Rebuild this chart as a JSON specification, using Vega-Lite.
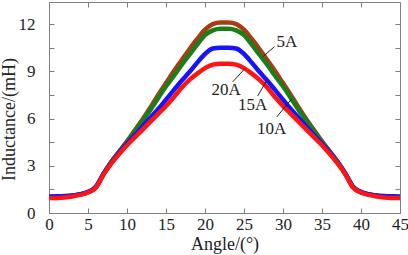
{
  "$schema": "https://vega.github.io/schema/vega-lite/v6.json",
  "width": 351,
  "height": 211,
  "autosize": "none",
  "padding": {"left": 49, "top": 2, "right": 8, "bottom": 42},
  "background": "white",
  "config": {
    "font": "Liberation Serif",
    "view": {"stroke": null},
    "axis": {"domainColor": "#808080", "tickColor": "#808080", "grid": false, "labelFont": "Liberation Serif", "titleFont": "Liberation Serif", "labelColor": "#222222", "titleColor": "#222222", "titleFontWeight": "normal", "labelFontSize": 17, "titleFontSize": 18}
  },
  "datasets": {
    "curves": [
      {"s":"5A","x":0,"y":1.0},{"s":"5A","x":1,"y":1.02},{"s":"5A","x":2,"y":1.05},{"s":"5A","x":3,"y":1.1},{"s":"5A","x":4,"y":1.18},{"s":"5A","x":5,"y":1.32},{"s":"5A","x":6,"y":1.65},{"s":"5A","x":7,"y":2.5},{"s":"5A","x":8,"y":3.25},{"s":"5A","x":9,"y":3.9},{"s":"5A","x":10,"y":4.55},{"s":"5A","x":11,"y":5.25},{"s":"5A","x":12,"y":5.95},{"s":"5A","x":13,"y":6.7},{"s":"5A","x":14,"y":7.5},{"s":"5A","x":15,"y":8.25},{"s":"5A","x":16,"y":9.0},{"s":"5A","x":17,"y":9.7},{"s":"5A","x":18,"y":10.4},{"s":"5A","x":19,"y":11.05},{"s":"5A","x":20,"y":11.65},{"s":"5A","x":21,"y":12.0},{"s":"5A","x":22,"y":12.1},{"s":"5A","x":23,"y":12.1},{"s":"5A","x":24,"y":12.0},{"s":"5A","x":25,"y":11.65},{"s":"5A","x":26,"y":11.05},{"s":"5A","x":27,"y":10.4},{"s":"5A","x":28,"y":9.7},{"s":"5A","x":29,"y":9.0},{"s":"5A","x":30,"y":8.25},{"s":"5A","x":31,"y":7.5},{"s":"5A","x":32,"y":6.7},{"s":"5A","x":33,"y":5.95},{"s":"5A","x":34,"y":5.25},{"s":"5A","x":35,"y":4.55},{"s":"5A","x":36,"y":3.9},{"s":"5A","x":37,"y":3.25},{"s":"5A","x":38,"y":2.5},{"s":"5A","x":39,"y":1.65},{"s":"5A","x":40,"y":1.32},{"s":"5A","x":41,"y":1.18},{"s":"5A","x":42,"y":1.1},{"s":"5A","x":43,"y":1.05},{"s":"5A","x":44,"y":1.02},{"s":"5A","x":45,"y":1.0},
      {"s":"10A","x":0,"y":1.0},{"s":"10A","x":1,"y":1.02},{"s":"10A","x":2,"y":1.05},{"s":"10A","x":3,"y":1.1},{"s":"10A","x":4,"y":1.18},{"s":"10A","x":5,"y":1.32},{"s":"10A","x":6,"y":1.65},{"s":"10A","x":7,"y":2.5},{"s":"10A","x":8,"y":3.25},{"s":"10A","x":9,"y":3.9},{"s":"10A","x":10,"y":4.5},{"s":"10A","x":11,"y":5.2},{"s":"10A","x":12,"y":5.85},{"s":"10A","x":13,"y":6.55},{"s":"10A","x":14,"y":7.3},{"s":"10A","x":15,"y":8.05},{"s":"10A","x":16,"y":8.7},{"s":"10A","x":17,"y":9.4},{"s":"10A","x":18,"y":10.05},{"s":"10A","x":19,"y":10.7},{"s":"10A","x":20,"y":11.3},{"s":"10A","x":21,"y":11.6},{"s":"10A","x":22,"y":11.7},{"s":"10A","x":23,"y":11.7},{"s":"10A","x":24,"y":11.6},{"s":"10A","x":25,"y":11.3},{"s":"10A","x":26,"y":10.7},{"s":"10A","x":27,"y":10.05},{"s":"10A","x":28,"y":9.4},{"s":"10A","x":29,"y":8.7},{"s":"10A","x":30,"y":8.05},{"s":"10A","x":31,"y":7.3},{"s":"10A","x":32,"y":6.55},{"s":"10A","x":33,"y":5.85},{"s":"10A","x":34,"y":5.2},{"s":"10A","x":35,"y":4.5},{"s":"10A","x":36,"y":3.9},{"s":"10A","x":37,"y":3.25},{"s":"10A","x":38,"y":2.5},{"s":"10A","x":39,"y":1.65},{"s":"10A","x":40,"y":1.32},{"s":"10A","x":41,"y":1.18},{"s":"10A","x":42,"y":1.1},{"s":"10A","x":43,"y":1.05},{"s":"10A","x":44,"y":1.02},{"s":"10A","x":45,"y":1.0},
      {"s":"15A","x":0,"y":1.05},{"s":"15A","x":1,"y":1.06},{"s":"15A","x":2,"y":1.08},{"s":"15A","x":3,"y":1.12},{"s":"15A","x":4,"y":1.2},{"s":"15A","x":5,"y":1.34},{"s":"15A","x":6,"y":1.65},{"s":"15A","x":7,"y":2.5},{"s":"15A","x":8,"y":3.2},{"s":"15A","x":9,"y":3.85},{"s":"15A","x":10,"y":4.4},{"s":"15A","x":11,"y":4.95},{"s":"15A","x":12,"y":5.5},{"s":"15A","x":13,"y":6.05},{"s":"15A","x":14,"y":6.6},{"s":"15A","x":15,"y":7.2},{"s":"15A","x":16,"y":7.8},{"s":"15A","x":17,"y":8.4},{"s":"15A","x":18,"y":8.95},{"s":"15A","x":19,"y":9.55},{"s":"15A","x":20,"y":10.1},{"s":"15A","x":21,"y":10.45},{"s":"15A","x":22,"y":10.5},{"s":"15A","x":23,"y":10.5},{"s":"15A","x":24,"y":10.45},{"s":"15A","x":25,"y":10.1},{"s":"15A","x":26,"y":9.55},{"s":"15A","x":27,"y":8.95},{"s":"15A","x":28,"y":8.4},{"s":"15A","x":29,"y":7.8},{"s":"15A","x":30,"y":7.2},{"s":"15A","x":31,"y":6.6},{"s":"15A","x":32,"y":6.05},{"s":"15A","x":33,"y":5.5},{"s":"15A","x":34,"y":4.95},{"s":"15A","x":35,"y":4.4},{"s":"15A","x":36,"y":3.85},{"s":"15A","x":37,"y":3.2},{"s":"15A","x":38,"y":2.5},{"s":"15A","x":39,"y":1.65},{"s":"15A","x":40,"y":1.34},{"s":"15A","x":41,"y":1.2},{"s":"15A","x":42,"y":1.12},{"s":"15A","x":43,"y":1.08},{"s":"15A","x":44,"y":1.06},{"s":"15A","x":45,"y":1.05},
      {"s":"20A","x":0,"y":0.95},{"s":"20A","x":1,"y":0.96},{"s":"20A","x":2,"y":0.99},{"s":"20A","x":3,"y":1.05},{"s":"20A","x":4,"y":1.15},{"s":"20A","x":5,"y":1.3},{"s":"20A","x":6,"y":1.6},{"s":"20A","x":7,"y":2.45},{"s":"20A","x":8,"y":3.15},{"s":"20A","x":9,"y":3.75},{"s":"20A","x":10,"y":4.3},{"s":"20A","x":11,"y":4.8},{"s":"20A","x":12,"y":5.3},{"s":"20A","x":13,"y":5.8},{"s":"20A","x":14,"y":6.3},{"s":"20A","x":15,"y":6.8},{"s":"20A","x":16,"y":7.35},{"s":"20A","x":17,"y":7.95},{"s":"20A","x":18,"y":8.45},{"s":"20A","x":19,"y":8.85},{"s":"20A","x":20,"y":9.2},{"s":"20A","x":21,"y":9.42},{"s":"20A","x":22,"y":9.48},{"s":"20A","x":23,"y":9.48},{"s":"20A","x":24,"y":9.42},{"s":"20A","x":25,"y":9.2},{"s":"20A","x":26,"y":8.85},{"s":"20A","x":27,"y":8.45},{"s":"20A","x":28,"y":7.95},{"s":"20A","x":29,"y":7.35},{"s":"20A","x":30,"y":6.8},{"s":"20A","x":31,"y":6.3},{"s":"20A","x":32,"y":5.8},{"s":"20A","x":33,"y":5.3},{"s":"20A","x":34,"y":4.8},{"s":"20A","x":35,"y":4.3},{"s":"20A","x":36,"y":3.75},{"s":"20A","x":37,"y":3.15},{"s":"20A","x":38,"y":2.45},{"s":"20A","x":39,"y":1.6},{"s":"20A","x":40,"y":1.3},{"s":"20A","x":41,"y":1.15},{"s":"20A","x":42,"y":1.05},{"s":"20A","x":43,"y":0.99},{"s":"20A","x":44,"y":0.96},{"s":"20A","x":45,"y":0.95}
    ],
    "notes": [
      {"label":"5A","tx":30.5,"ty":10.88,"x1":27.4,"y1":9.92,"x2":28.9,"y2":10.56},
      {"label":"20A","tx":22.7,"ty":7.79,"x1":23.55,"y1":8.33,"x2":25.1,"y2":9.16},
      {"label":"15A","tx":26.1,"ty":6.83,"x1":26.76,"y1":7.43,"x2":28.0,"y2":8.5},
      {"label":"10A","tx":28.55,"ty":5.36,"x1":29.2,"y1":6.1,"x2":31.1,"y2":7.24}
    ]
  },
  "layer": [
    {
      "data": {"name": "curves"},
      "mark": {"type": "line", "strokeWidth": 4.5, "clip": true, "interpolate": "monotone"},
      "encoding": {
        "x": {"field": "x", "type": "quantitative", "scale": {"domain": [0, 45], "nice": false, "zero": false},
              "axis": {"orient": "bottom", "values": [0,5,10,15,20,25,30,35,40,45], "tickSize": -5, "labelPadding": 8, "labelFlush": false, "title": "Angle/(°)", "titlePadding": 3}},
        "y": {"field": "y", "type": "quantitative", "scale": {"domain": [0, 13.4], "nice": false},
              "axis": {"orient": "left", "values": [0,1.5,3,4.5,6,7.5,9,10.5,12], "labelExpr": "datum.value % 3 == 0 ? datum.label : ''", "tickSize": -5, "labelPadding": 19, "title": "Inductance/(mH)", "titleX": -31, "titleY": 117}},
        "color": {"field": "s", "type": "nominal", "scale": {"domain": ["5A","10A","15A","20A"], "range": ["#A83C14","#1A7F1A","#1414FF","#FF1414"]}, "legend": null}
      }
    },
    {
      "data": {"name": "notes"},
      "mark": {"type": "rule", "color": "#222222", "strokeWidth": 1},
      "encoding": {
        "x": {"field": "x1", "type": "quantitative", "axis": {"orient": "top", "values": [0,5,10,15,20,25,30,35,40,45], "labels": false, "title": null, "tickSize": -5}},
        "y": {"field": "y1", "type": "quantitative", "axis": {"orient": "right", "values": [0,1.5,3,4.5,6,7.5,9,10.5,12], "labels": false, "title": null, "tickSize": -5}},
        "x2": {"field": "x2"},
        "y2": {"field": "y2"}
      }
    },
    {
      "data": {"name": "notes"},
      "mark": {"type": "text", "font": "Liberation Serif", "fontSize": 17, "color": "#222222", "align": "center", "baseline": "middle"},
      "encoding": {
        "x": {"field": "tx", "type": "quantitative", "axis": null},
        "y": {"field": "ty", "type": "quantitative", "axis": null},
        "text": {"field": "label"}
      }
    }
  ],
  "resolve": {"axis": {"x": "independent", "y": "independent"}}
}
